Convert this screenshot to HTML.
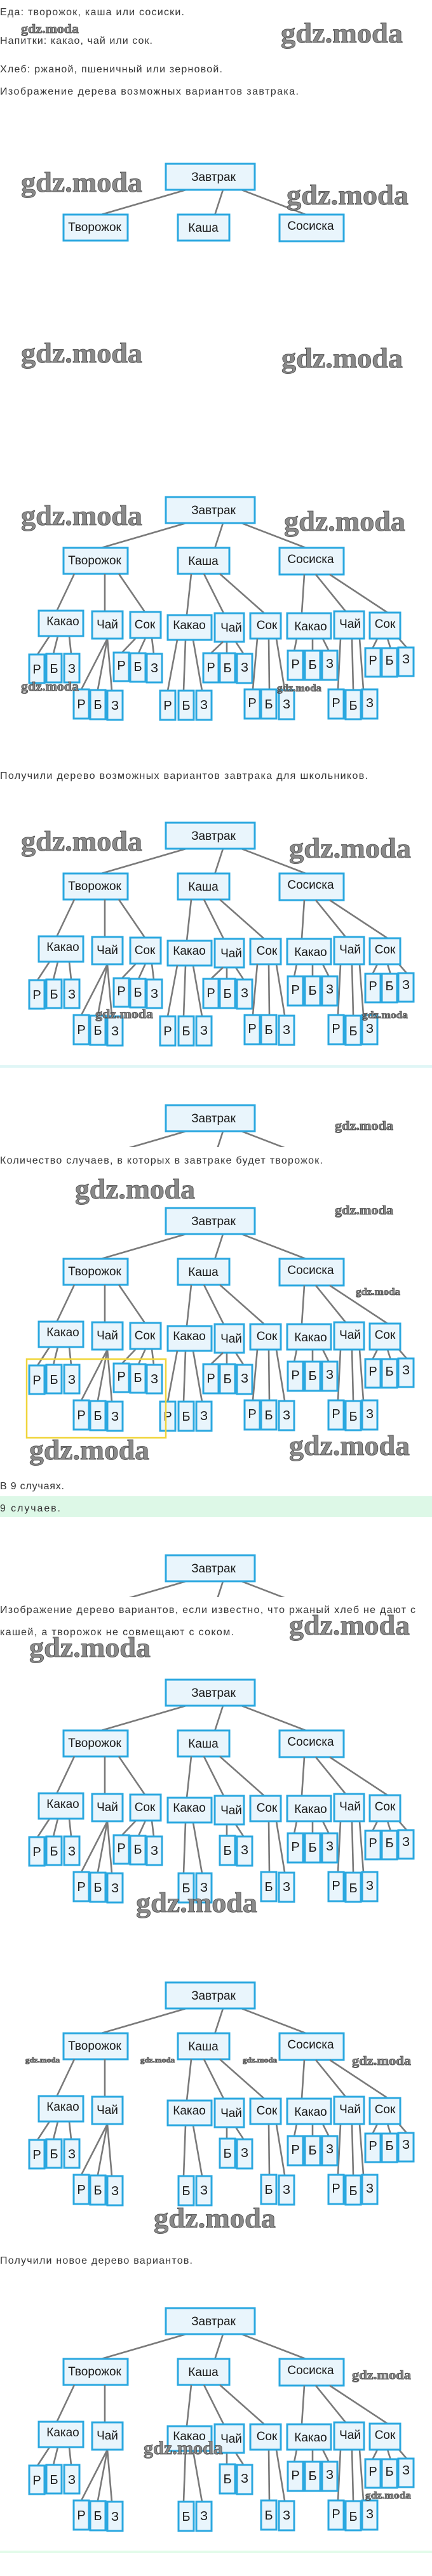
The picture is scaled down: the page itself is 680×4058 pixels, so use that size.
<!DOCTYPE html>
<html><head><meta charset="utf-8"><style>
html,body{margin:0;padding:0;background:#fff;}
svg{display:block;}
.p{font-family:"Liberation Sans","Noto Sans CJK SC",sans-serif;font-size:16px;fill:#333;}
.b{fill:#e9f5fc;stroke:#2ba8e0;stroke-width:3;}
.l{stroke:#7a7a7a;stroke-width:2.6;fill:none;}
.t{font-family:"Liberation Sans","Noto Sans CJK SC",sans-serif;font-size:19px;fill:#1a1a1a;text-anchor:middle;}
.lt{font-family:"Liberation Sans","Noto Sans CJK SC",sans-serif;font-size:20px;fill:#1a1a1a;text-anchor:middle;}
.w{font-family:"Liberation Serif",serif;font-weight:bold;fill:#8a8a8a;stroke:#4a4a4a;stroke-width:0.8;}
</style></head><body>
<svg width="680" height="4058" viewBox="0 0 680 4058" xmlns="http://www.w3.org/2000/svg" xmlns:xlink="http://www.w3.org/1999/xlink">
<defs>
<clipPath id="cut"><rect x="0" y="-5" width="680" height="71"/></clipPath>
<g id="root">
 <rect class="b" x="261" y="0" width="140" height="41"/><text class="t" x="336" y="27">Завтрак</text>
</g>
<g id="rl">
 <line class="l" x1="293" y1="41" x2="156" y2="81"/><line class="l" x1="351" y1="41" x2="338" y2="81"/><line class="l" x1="380" y1="41" x2="484" y2="81"/>
</g>
<g id="l2">
 <rect class="b" x="100" y="80" width="101" height="41"/><text class="t" x="149" y="106">Творожок</text>
 <rect class="b" x="280" y="80" width="81" height="41"/><text class="t" x="320" y="107">Каша</text>
 <rect class="b" x="440" y="80" width="101" height="42"/><text class="t" x="489" y="104">Сосиска</text>
</g>
<!-- Творожок: Какао + Чай -->
<g id="tv2">
 <line class="l" x1="117" y1="121" x2="89" y2="180"/><line class="l" x1="165" y1="121" x2="165" y2="180"/>
 <line class="l" x1="78" y1="219" x2="59" y2="248"/><line class="l" x1="91" y1="219" x2="84" y2="247"/><line class="l" x1="109" y1="219" x2="112" y2="247"/>
 <line class="l" x1="169" y1="223" x2="128" y2="303"/><line class="l" x1="169" y1="223" x2="154" y2="303"/><line class="l" x1="169" y1="223" x2="176" y2="305"/>
 <rect class="b" x="61" y="179" width="70" height="40"/><text class="t" x="99" y="202">Какао</text>
 <rect class="b" x="145" y="180" width="48" height="43"/><text class="t" x="169" y="207">Чай</text>
 <rect class="b" x="46" y="248" width="24" height="45"/><text class="lt" x="58" y="278">Р</text>
 <rect class="b" x="73" y="247" width="24" height="45"/><text class="lt" x="85" y="277">Б</text>
 <rect class="b" x="101" y="247" width="24" height="45"/><text class="lt" x="113" y="277">З</text>
 <rect class="b" x="116" y="303" width="24" height="46"/><text class="lt" x="128" y="333">Р</text>
 <rect class="b" x="142" y="304" width="24" height="46"/><text class="lt" x="154" y="334">Б</text>
 <rect class="b" x="169" y="305" width="24" height="46"/><text class="lt" x="181" y="335">З</text>
</g>
<g id="tvS">
 <line class="l" x1="187" y1="121" x2="228" y2="181"/>
 <line class="l" x1="214" y1="222" x2="192" y2="245"/><line class="l" x1="229" y1="222" x2="218" y2="246"/><line class="l" x1="239" y1="222" x2="242" y2="247"/>
 <rect class="b" x="205" y="181" width="48" height="41"/><text class="t" x="228" y="207">Сок</text>
 <rect class="b" x="179" y="245" width="24" height="45"/><text class="lt" x="191" y="272">Р</text>
 <rect class="b" x="205" y="246" width="24" height="45"/><text class="lt" x="217" y="274">Б</text>
 <rect class="b" x="231" y="247" width="24" height="45"/><text class="lt" x="243" y="276">З</text>
</g>
<!-- Каша pruned (Б,З only) -->
<g id="kp">
 <line class="l" x1="301" y1="121" x2="294" y2="186"/><line class="l" x1="321" y1="121" x2="352" y2="183"/><line class="l" x1="346" y1="121" x2="416" y2="183"/>
 <line class="l" x1="292" y1="225" x2="289" y2="305"/><line class="l" x1="304" y1="225" x2="318" y2="305"/>
 <line class="l" x1="357" y1="228" x2="357" y2="247"/><line class="l" x1="371" y1="228" x2="384" y2="248"/>
 <line class="l" x1="423" y1="223" x2="424" y2="303"/><line class="l" x1="435" y1="223" x2="448" y2="303"/>
 <rect class="b" x="264" y="186" width="69" height="39"/><text class="t" x="298" y="208">Какао</text>
 <rect class="b" x="338" y="183" width="46" height="45"/><text class="t" x="364" y="212">Чай</text>
 <rect class="b" x="394" y="183" width="48" height="40"/><text class="t" x="420" y="208">Сок</text>
 <rect class="b" x="281" y="305" width="24" height="46"/><text class="lt" x="293" y="335">Б</text>
 <rect class="b" x="309" y="305" width="24" height="46"/><text class="lt" x="321" y="334">З</text>
 <rect class="b" x="346" y="246" width="24" height="46"/><text class="lt" x="358" y="276">Б</text>
 <rect class="b" x="373" y="247" width="24" height="46"/><text class="lt" x="385" y="275">З</text>
 <rect class="b" x="411" y="303" width="24" height="46"/><text class="lt" x="423" y="333">Б</text>
 <rect class="b" x="439" y="304" width="24" height="46"/><text class="lt" x="451" y="333">З</text>
</g>
<g id="kR">
 <line class="l" x1="279" y1="225" x2="264" y2="305"/><line class="l" x1="351" y1="228" x2="331" y2="247"/><line class="l" x1="405" y1="223" x2="398" y2="303"/>
 <rect class="b" x="252" y="305" width="24" height="46"/><text class="lt" x="264" y="335">Р</text>
 <rect class="b" x="320" y="246" width="24" height="46"/><text class="lt" x="332" y="275">Р</text>
 <rect class="b" x="385" y="303" width="24" height="46"/><text class="lt" x="397" y="331">Р</text>
</g>
<g id="sos">
 <line class="l" x1="479" y1="122" x2="475" y2="183"/><line class="l" x1="497" y1="122" x2="544" y2="180"/><line class="l" x1="519" y1="122" x2="610" y2="182"/>
 <line class="l" x1="467" y1="223" x2="463" y2="243"/><line class="l" x1="492" y1="223" x2="492" y2="243"/><line class="l" x1="508" y1="223" x2="518" y2="243"/>
 <line class="l" x1="536" y1="223" x2="532" y2="303"/><line class="l" x1="554" y1="223" x2="556" y2="303"/><line class="l" x1="566" y1="223" x2="572" y2="303"/>
 <line class="l" x1="594" y1="223" x2="586" y2="239"/><line class="l" x1="610" y1="223" x2="615" y2="239"/><line class="l" x1="628" y1="223" x2="641" y2="238"/>
 <rect class="b" x="452" y="183" width="69" height="40"/><text class="t" x="489" y="210">Какао</text>
 <rect class="b" x="526" y="180" width="47" height="43"/><text class="t" x="551" y="206">Чай</text>
 <rect class="b" x="582" y="182" width="48" height="41"/><text class="t" x="606" y="206">Сок</text>
 <rect class="b" x="453" y="242" width="24" height="46"/><text class="lt" x="465" y="270">Р</text>
 <rect class="b" x="480" y="242" width="24" height="46"/><text class="lt" x="492" y="271">Б</text>
 <rect class="b" x="507" y="242" width="24" height="46"/><text class="lt" x="519" y="269">З</text>
 <rect class="b" x="517" y="303" width="24" height="46"/><text class="lt" x="529" y="331">Р</text>
 <rect class="b" x="544" y="304" width="24" height="46"/><text class="lt" x="556" y="335">Б</text>
 <rect class="b" x="570" y="303" width="24" height="46"/><text class="lt" x="582" y="331">З</text>
 <rect class="b" x="575" y="238" width="24" height="45"/><text class="lt" x="587" y="264">Р</text>
 <rect class="b" x="601" y="238" width="24" height="45"/><text class="lt" x="613" y="264">Б</text>
 <rect class="b" x="627" y="237" width="24" height="45"/><text class="lt" x="639" y="262">З</text>
</g>
</defs>

<!-- paragraphs -->
<text class="p" x="0" y="24" textLength="290" lengthAdjust="spacing">Еда: творожок, каша или сосиски.</text>
<text class="p" x="0" y="69" textLength="240" lengthAdjust="spacing">Напитки: какао, чай или сок.</text>
<text class="p" x="0" y="114" textLength="350" lengthAdjust="spacing">Хлеб: ржаной, пшеничный или зерновой.</text>
<text class="p" x="0" y="149" textLength="470" lengthAdjust="spacing">Изображение дерева возможных вариантов завтрака.</text>
<text class="p" x="0" y="1227" textLength="579" lengthAdjust="spacing">Получили дерево возможных вариантов завтрака для школьников.</text>
<rect x="0" y="1678" width="680" height="4" fill="#e0f6f6"/>
<text class="p" x="0" y="1833" textLength="508" lengthAdjust="spacing">Количество случаев, в которых в завтраке будет творожок.</text>
<text class="p" x="0" y="2346" textLength="101" lengthAdjust="spacing">В 9 случаях.</text>
<rect x="0" y="2357" width="680" height="33" fill="#ddf8e7"/>
<text class="p" x="0" y="2381" textLength="95" lengthAdjust="spacing">9 случаев.</text>
<text class="p" x="0" y="2541" textLength="654" lengthAdjust="spacing">Изображение дерево вариантов, если известно, что ржаный хлеб не дают с</text>
<text class="p" x="0" y="2576" textLength="368" lengthAdjust="spacing">кашей, а творожок не совмещают с соком.</text>
<text class="p" x="0" y="3566" textLength="303" lengthAdjust="spacing">Получили новое дерево вариантов.</text>
<rect x="0" y="4018" width="680" height="4" fill="#e3fbea"/>

<!-- tree 1 -->
<g transform="translate(0,258)"><use xlink:href="#rl"/><use xlink:href="#root"/><use xlink:href="#l2"/></g>
<!-- tree 2 -->
<g transform="translate(0,783)"><use xlink:href="#rl"/><use xlink:href="#root"/><use xlink:href="#l2"/><use xlink:href="#tv2"/><use xlink:href="#tvS"/><use xlink:href="#kp"/><use xlink:href="#kR"/><use xlink:href="#sos"/></g>
<!-- tree 3 -->
<g transform="translate(0,1296)"><use xlink:href="#rl"/><use xlink:href="#root"/><use xlink:href="#l2"/><use xlink:href="#tv2"/><use xlink:href="#tvS"/><use xlink:href="#kp"/><use xlink:href="#kR"/><use xlink:href="#sos"/></g>
<!-- cropped -->
<g transform="translate(0,1741)" clip-path="url(#cut)"><use xlink:href="#rl"/><use xlink:href="#root"/></g>
<!-- tree 4 -->
<g transform="translate(0,1903)"><use xlink:href="#rl"/><use xlink:href="#root"/><use xlink:href="#l2"/><use xlink:href="#tv2"/><use xlink:href="#tvS"/><use xlink:href="#kp"/><use xlink:href="#kR"/><use xlink:href="#sos"/></g>
<rect x="42" y="2141" width="219" height="124" fill="none" stroke="#f0d53a" stroke-width="2.5"/>
<!-- cropped 2 -->
<g transform="translate(0,2450)" clip-path="url(#cut)"><use xlink:href="#rl"/><use xlink:href="#root"/></g>
<!-- tree 6 -->
<g transform="translate(0,2646)"><use xlink:href="#rl"/><use xlink:href="#root"/><use xlink:href="#l2"/><use xlink:href="#tv2"/><use xlink:href="#tvS"/><use xlink:href="#kp"/><use xlink:href="#sos"/></g>
<!-- tree 7 -->
<g transform="translate(0,3123)"><use xlink:href="#rl"/><use xlink:href="#root"/><use xlink:href="#l2"/><use xlink:href="#tv2"/><use xlink:href="#kp"/><use xlink:href="#sos"/></g>
<!-- tree 8 -->
<g transform="translate(0,3636)"><use xlink:href="#rl"/><use xlink:href="#root"/><use xlink:href="#l2"/><use xlink:href="#tv2"/><use xlink:href="#kp"/><use xlink:href="#sos"/></g>

<!-- watermarks -->
<g class="w">
<text x="33" y="52" font-size="20" textLength="91" lengthAdjust="spacingAndGlyphs">gdz.moda</text>
<text x="442" y="67" font-size="44" textLength="192" lengthAdjust="spacingAndGlyphs">gdz.moda</text>
<text x="33" y="302" font-size="44" textLength="191" lengthAdjust="spacingAndGlyphs">gdz.moda</text>
<text x="451" y="322" font-size="44" textLength="192" lengthAdjust="spacingAndGlyphs">gdz.moda</text>
<text x="33" y="571" font-size="44" textLength="191" lengthAdjust="spacingAndGlyphs">gdz.moda</text>
<text x="443" y="579" font-size="44" textLength="191" lengthAdjust="spacingAndGlyphs">gdz.moda</text>
<text x="33" y="827" font-size="44" textLength="191" lengthAdjust="spacingAndGlyphs">gdz.moda</text>
<text x="447" y="836" font-size="44" textLength="191" lengthAdjust="spacingAndGlyphs">gdz.moda</text>
<text x="33" y="1088" font-size="20" textLength="91" lengthAdjust="spacingAndGlyphs">gdz.moda</text>
<text x="436" y="1089" font-size="16" textLength="70" lengthAdjust="spacingAndGlyphs">gdz.moda</text>
<text x="33" y="1340" font-size="44" textLength="191" lengthAdjust="spacingAndGlyphs">gdz.moda</text>
<text x="455" y="1351" font-size="44" textLength="192" lengthAdjust="spacingAndGlyphs">gdz.moda</text>
<text x="150" y="1604" font-size="20" textLength="91" lengthAdjust="spacingAndGlyphs">gdz.moda</text>
<text x="570" y="1604" font-size="16" textLength="72" lengthAdjust="spacingAndGlyphs">gdz.moda</text>
<text x="527" y="1780" font-size="20" textLength="92" lengthAdjust="spacingAndGlyphs">gdz.moda</text>
<text x="118" y="1888" font-size="44" textLength="189" lengthAdjust="spacingAndGlyphs">gdz.moda</text>
<text x="527" y="1913" font-size="20" textLength="92" lengthAdjust="spacingAndGlyphs">gdz.moda</text>
<text x="560" y="2040" font-size="16" textLength="70" lengthAdjust="spacingAndGlyphs">gdz.moda</text>
<text x="46" y="2299" font-size="44" textLength="189" lengthAdjust="spacingAndGlyphs">gdz.moda</text>
<text x="455" y="2292" font-size="44" textLength="190" lengthAdjust="spacingAndGlyphs">gdz.moda</text>
<text x="455" y="2575" font-size="44" textLength="190" lengthAdjust="spacingAndGlyphs">gdz.moda</text>
<text x="46" y="2610" font-size="44" textLength="191" lengthAdjust="spacingAndGlyphs">gdz.moda</text>
<text x="214" y="3012" font-size="44" textLength="191" lengthAdjust="spacingAndGlyphs">gdz.moda</text>
<text x="40" y="3249" font-size="12" textLength="54" lengthAdjust="spacingAndGlyphs">gdz.moda</text>
<text x="221" y="3249" font-size="12" textLength="54" lengthAdjust="spacingAndGlyphs">gdz.moda</text>
<text x="382" y="3249" font-size="12" textLength="54" lengthAdjust="spacingAndGlyphs">gdz.moda</text>
<text x="554" y="3253" font-size="20" textLength="93" lengthAdjust="spacingAndGlyphs">gdz.moda</text>
<text x="242" y="3509" font-size="44" textLength="192" lengthAdjust="spacingAndGlyphs">gdz.moda</text>
<text x="554" y="3748" font-size="20" textLength="93" lengthAdjust="spacingAndGlyphs">gdz.moda</text>
<text x="226" y="3866" font-size="30" textLength="125" lengthAdjust="spacingAndGlyphs">gdz.moda</text>
<text x="575" y="3936" font-size="16" textLength="72" lengthAdjust="spacingAndGlyphs">gdz.moda</text>
</g>
</svg>
</body></html>
